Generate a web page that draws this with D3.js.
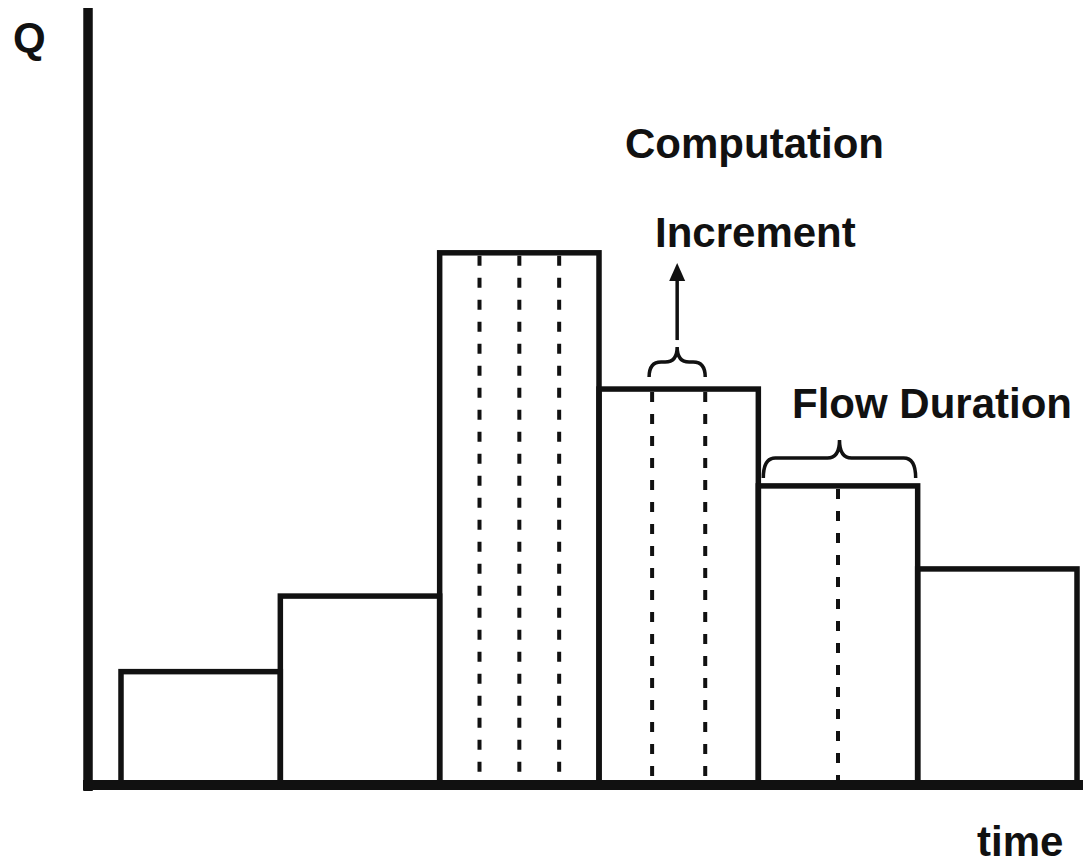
<!DOCTYPE html>
<html>
<head>
<meta charset="utf-8">
<script src="https://cdn.jsdelivr.net/npm/d3@7"></script>
<style>
  html, body { margin: 0; padding: 0; background: #fff; }
  svg { display: block; }
  text { font-family: "Liberation Sans", Arial, sans-serif; font-weight: bold; fill: #111; }
</style>
</head>
<body>
<svg id="chart" width="1083" height="866"></svg>
<script>
// ---- data ----
const periods = [0, 1, 2, 3, 4, 5];                 // time steps (flow durations)
const flows = [21.3, 35.5, 100, 74.4, 56.2, 40.6];  // Q for each flow duration
const increments = [1, 1, 4, 3, 2, 1];              // computation increments per duration
const labels = ["Q", "time", "Computation", "Increment", "Flow Duration"];

// ---- scales ----
const W = 1083, H = 866;
const x = d3.scaleLinear().domain([0, 6]).range([121, 1077]);
const y = d3.scaleLinear().domain([0, 146]).range([785, 8]);

const svg = d3.select("#chart");
const ink = "#111";

// bars
svg.append("g").selectAll("rect").data(periods).join("rect")
  .attr("x", d => x(d))
  .attr("y", d => y(flows[d]))
  .attr("width", d => x(d + 1) - x(d))
  .attr("height", d => y(0) - y(flows[d]))
  .attr("fill", "none")
  .attr("stroke", ink)
  .attr("stroke-width", 5.5);

// dashed computation increments
const dashes = [];
periods.forEach(p => {
  for (let k = 1; k < increments[p]; k++) dashes.push({ p, t: p + k / increments[p] });
});
svg.append("g").selectAll("line").data(dashes).join("line")
  .attr("x1", d => x(d.t)).attr("x2", d => x(d.t))
  .attr("y1", d => y(flows[d.p]) + 3)
  .attr("y2", y(0) - 4)
  .attr("stroke", ink)
  .attr("stroke-width", 4)
  .attr("stroke-dasharray", "10,12");

// axes
svg.append("line")
  .attr("x1", x(-0.207)).attr("x2", x(-0.207))
  .attr("y1", y(146)).attr("y2", y(0) + 6)
  .attr("stroke", ink).attr("stroke-width", 9.5);
svg.append("line")
  .attr("x1", x(-0.207) - 5).attr("x2", W)
  .attr("y1", y(0)).attr("y2", y(0))
  .attr("stroke", ink).attr("stroke-width", 10);

// braces
function brace(x0, x1, yEnd, yH, yTop) {
  const xm = (x0 + x1) / 2, r = Math.min(12, (xm - x0) / 2);
  return `M${x0},${yEnd} Q${x0},${yH} ${x0 + r},${yH} L${xm - r},${yH} Q${xm},${yH} ${xm},${yTop}` +
         ` Q${xm},${yH} ${xm + r},${yH} L${x1 - r},${yH} Q${x1},${yH} ${x1},${yEnd}`;
}
// increment brace (middle increment of period 3)
const incA = x(3 + 1 / 3), incB = x(3 + 2 / 3);
svg.append("path")
  .attr("d", brace(incA - 3, incB, y(flows[3]) - 12, y(flows[3]) - 27, y(flows[3]) - 42))
  .attr("fill", "none").attr("stroke", ink).attr("stroke-width", 3.5);
// flow duration brace (period 4)
svg.append("path")
  .attr("d", brace(x(4) + 5, x(5) - 2, y(flows[4]) - 8, y(flows[4]) - 28, y(flows[4]) - 46))
  .attr("fill", "none").attr("stroke", ink).attr("stroke-width", 3.5);

// arrow
const ax = (incA - 3 + incB) / 2;
svg.append("line")
  .attr("x1", ax).attr("x2", ax)
  .attr("y1", y(flows[3]) - 49).attr("y2", 278)
  .attr("stroke", ink).attr("stroke-width", 3.5);
svg.append("path")
  .attr("d", `M${ax},263 L${ax - 8},281 L${ax + 8},281 Z`)
  .attr("fill", ink);

// labels
const fs = 42;
svg.append("text").attr("x", 13).attr("y", 52).attr("font-size", fs).text(labels[0]);
svg.append("text").attr("x", 977).attr("y", 856).attr("font-size", fs).text(labels[1]);
svg.append("text").attr("x", 625).attr("y", 158).attr("font-size", fs).text(labels[2]);
svg.append("text").attr("x", 655).attr("y", 247).attr("font-size", fs).text(labels[3]);
svg.append("text").attr("x", 792).attr("y", 418).attr("font-size", fs).text(labels[4]);
</script>
</body>
</html>
